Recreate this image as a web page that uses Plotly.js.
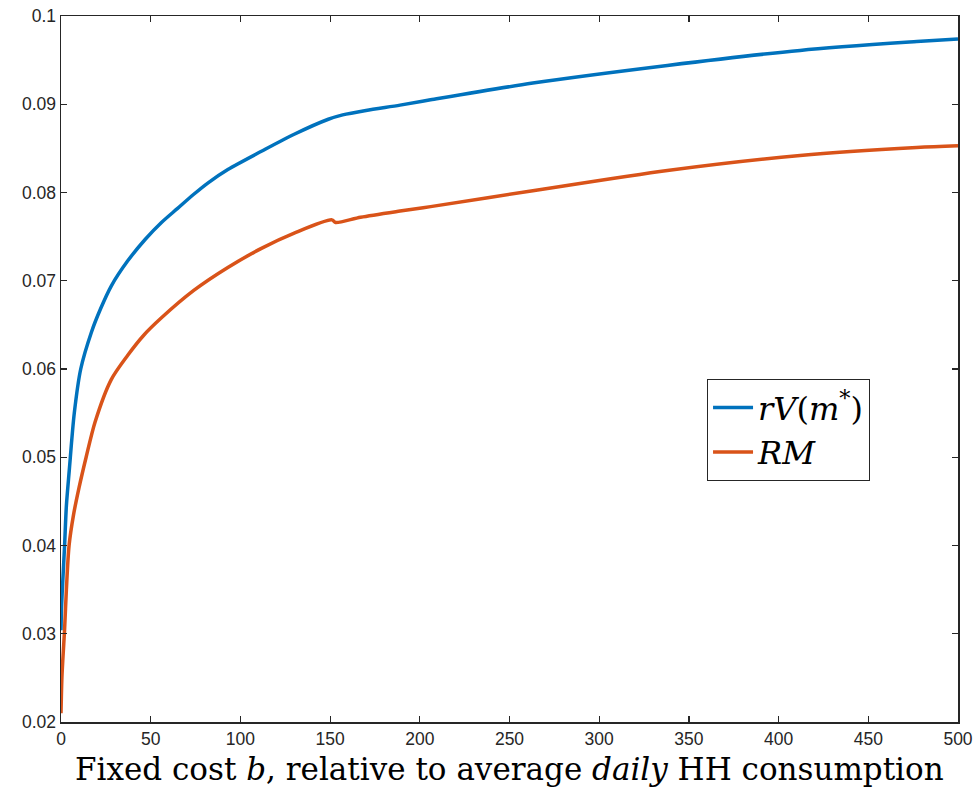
<!DOCTYPE html>
<html>
<head>
<meta charset="utf-8">
<script src="https://cdn.plot.ly/plotly-3.0.1.min.js"></script>
<style>html,body{margin:0;padding:0;background:#fff;}#chart{width:974px;height:792px;}</style>
</head>
<body>
<div id="chart"></div>
<script>
// Fixed cost b (relative to average daily HH consumption)
const bRV = [0, 0.3, 1, 2, 3, 4.6, 7.4, 11, 17, 22, 28, 37, 47, 56, 65, 74, 82, 93, 112, 130, 149, 157, 170, 189, 206, 263, 338, 412, 477, 500];
const rV  = [0.0304, 0.033, 0.036, 0.040, 0.0445, 0.0485, 0.055, 0.0600, 0.0642, 0.0668, 0.0694, 0.0722, 0.0747, 0.0766, 0.0782, 0.0798, 0.0811, 0.0826, 0.0847, 0.0866, 0.0883, 0.0888, 0.0893, 0.0899, 0.0905, 0.0924, 0.0944, 0.0961, 0.0971, 0.0974];

const bRM = [0, 0.5, 1, 2, 3, 4.5, 7, 10, 14, 19, 28, 37, 46, 56, 74, 93, 112, 130, 151, 153, 167, 189, 206, 263, 338, 412, 477, 500];
const RM  = [0.021, 0.025, 0.027, 0.0305, 0.035, 0.040, 0.0435, 0.0465, 0.050, 0.0540, 0.0588, 0.0615, 0.0638, 0.0658, 0.0689, 0.0715, 0.0737, 0.0754, 0.0769, 0.0766, 0.0772, 0.0779, 0.0784, 0.0802, 0.0825, 0.0842, 0.0851, 0.0853];

const seriesNames = ['<i>rV</i>(<i>m</i><sup>*</sup>)', '<i>RM</i>'];
const xTitle = 'Fixed cost <i>b</i>, relative to average <i>daily</i> HH consumption';
const xTickVals = [0, 50, 100, 150, 200, 250, 300, 350, 400, 450, 500];
const yTickVals = [0.02, 0.03, 0.04, 0.05, 0.06, 0.07, 0.08, 0.09, 0.1];
const yTickText = ['0.02', '0.03', '0.04', '0.05', '0.06', '0.07', '0.08', '0.09', '0.1'];

const traces = [
  {x: bRV, y: rV, type: 'scatter', mode: 'lines', name: seriesNames[0],
   line: {color: '#0072BD', width: 3.5, shape: 'spline', smoothing: 0.8}},
  {x: bRM, y: RM, type: 'scatter', mode: 'lines', name: seriesNames[1],
   line: {color: '#D95319', width: 3.5, shape: 'spline', smoothing: 0.8}}
];

const axisCommon = {
  showgrid: false, zeroline: false,
  showline: true, linecolor: '#262626', linewidth: 1.5, mirror: 'ticks',
  ticks: 'inside', ticklen: 6, tickwidth: 1.2, tickcolor: '#262626',
  tickfont: {family: 'Liberation Sans, Arial, sans-serif', size: 17.5, color: '#262626'}
};

const layout = {
  width: 974, height: 792,
  margin: {l: 61, r: 16, t: 16, b: 70},
  paper_bgcolor: '#fff', plot_bgcolor: '#fff',
  showlegend: true,
  legend: {
    x: 0.72, y: 0.486, xanchor: 'left', yanchor: 'top',
    bgcolor: '#fff', bordercolor: '#262626', borderwidth: 1.2,
    font: {family: 'DejaVu Serif, Liberation Serif, serif', size: 32, color: '#000'},
    itemwidth: 40,
    tracegroupgap: 0
  },
  xaxis: Object.assign({}, axisCommon, {
    range: [0, 500], tickvals: xTickVals, ticktext: xTickVals.map(String)
  }),
  yaxis: Object.assign({}, axisCommon, {
    range: [0.02, 0.1], tickvals: yTickVals, ticktext: yTickText
  }),
  annotations: [{
    text: xTitle, xref: 'paper', yref: 'paper', x: 0.5, y: -0.066,
    xanchor: 'center', yanchor: 'middle', showarrow: false,
    font: {family: 'DejaVu Serif, Liberation Serif, serif', size: 31, color: '#000'}
  }]
};

Plotly.newPlot('chart', traces, layout, {displayModeBar: false, staticPlot: true});
</script>
</body>
</html>
